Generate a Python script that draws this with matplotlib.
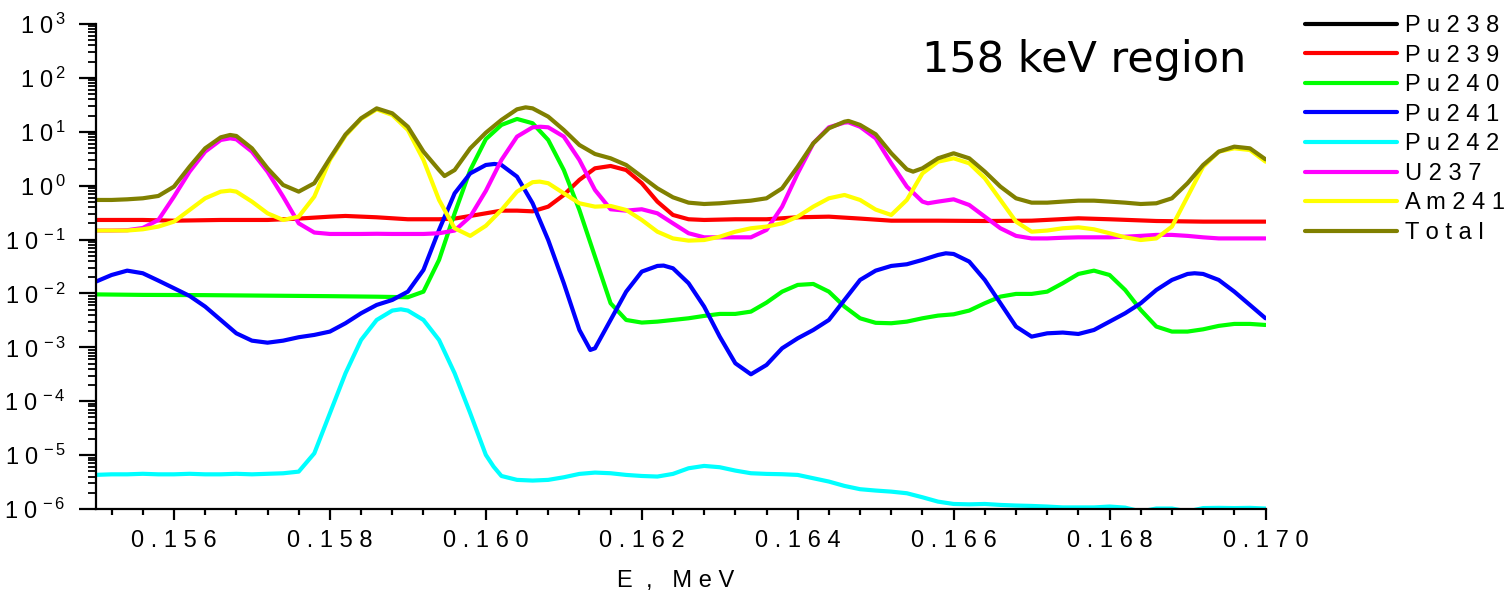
import matplotlib
matplotlib.use("Agg")
import matplotlib.pyplot as plt
from matplotlib.ticker import FixedLocator, MultipleLocator, LogLocator, FuncFormatter, NullFormatter
import math

# ---------------- data ----------------
E_pu238 = []
pu238 = []

E_pu239 = [0.1550, 0.1556, 0.1560, 0.1566, 0.1572, 0.1576, 0.1580, 0.1582, 0.1586, 0.1590,
           0.1594, 0.1596, 0.1598, 0.1600, 0.1602, 0.1604, 0.1606, 0.1608, 0.1610, 0.1612,
           0.1614, 0.1616, 0.1618, 0.1620, 0.1622, 0.1624, 0.1626, 0.1628, 0.1632, 0.1636,
           0.1640, 0.1644, 0.1648, 0.1652, 0.1658, 0.1664, 0.1670, 0.1676, 0.1680, 0.1686,
           0.1692, 0.1700]
pu239 = [0.231, 0.231, 0.224, 0.231, 0.231, 0.245, 0.266, 0.274, 0.259, 0.238,
         0.238, 0.245, 0.274, 0.307, 0.344, 0.344, 0.334, 0.408, 0.672, 1.28,
         2.10, 2.32, 1.95, 1.11, 0.506, 0.286, 0.238, 0.231, 0.238, 0.238,
         0.259, 0.266, 0.245, 0.224, 0.224, 0.221, 0.224, 0.248, 0.238, 0.221,
         0.215, 0.215]

E_pu240 = [0.1550, 0.1556, 0.1564, 0.1572, 0.1580, 0.1586, 0.1590, 0.1592, 0.1594, 0.1596,
           0.1598, 0.1600, 0.1602, 0.1604, 0.1606, 0.1608, 0.1610, 0.1612, 0.1614, 0.1616,
           0.1618, 0.1620, 0.1622, 0.1624, 0.1626, 0.1628, 0.1630, 0.1632, 0.1634, 0.1636,
           0.1638, 0.1640, 0.1642, 0.1644, 0.1646, 0.1648, 0.1650, 0.1652, 0.1654, 0.1656,
           0.1658, 0.1660, 0.1662, 0.1664, 0.1666, 0.1668, 0.1670, 0.1672, 0.1674, 0.1676,
           0.1678, 0.1680, 0.1682, 0.1684, 0.1686, 0.1688, 0.1690, 0.1692, 0.1694, 0.1696,
           0.1698, 0.1700]
pu240 = [0.0096, 0.0094, 0.0093, 0.0091, 0.0089, 0.0087, 0.0085, 0.0108, 0.0419, 0.307,
         1.95, 7.3, 13.4, 17.3, 14.4, 7.05, 1.95, 0.354, 0.0482, 0.00658,
         0.00322, 0.00288, 0.0030, 0.00322, 0.00346, 0.00383, 0.00417, 0.00417, 0.0046, 0.00676,
         0.0108, 0.0144, 0.0150, 0.0108, 0.0057, 0.00346, 0.00285, 0.0028, 0.0030, 0.00346,
         0.00388, 0.0041, 0.00481, 0.00658, 0.00873, 0.0098, 0.0098, 0.0108, 0.0155, 0.0230,
         0.0265, 0.0220, 0.0116, 0.00494, 0.00243, 0.00196, 0.00196, 0.00216, 0.0025, 0.00272,
         0.00272, 0.0026]

E_pu241 = [0.1550, 0.1552, 0.1554, 0.1556, 0.1558, 0.1560, 0.1562, 0.1564, 0.1566, 0.1568,
           0.1570, 0.1572, 0.1574, 0.1576, 0.1578, 0.1580, 0.1582, 0.1584, 0.1586, 0.1588,
           0.1590, 0.1592, 0.1594, 0.1596, 0.1598, 0.1600, 0.16011, 0.1602, 0.1604, 0.1606,
           0.1608, 0.1610, 0.1612, 0.16134, 0.1614, 0.1616, 0.1618, 0.1620, 0.1622, 0.16228,
           0.1624, 0.1626, 0.1628, 0.1630, 0.1632, 0.1634, 0.1636, 0.1638, 0.1640, 0.1642,
           0.1644, 0.1646, 0.1648, 0.1650, 0.1652, 0.1654, 0.1656, 0.1658, 0.16590, 0.1660,
           0.1662, 0.1664, 0.1666, 0.1668, 0.1670, 0.1672, 0.1674, 0.1676, 0.1678, 0.1680,
           0.1682, 0.1684, 0.1686, 0.1688, 0.1690, 0.16909, 0.1692, 0.1694, 0.1696, 0.1698,
           0.1700]
pu241 = [0.0166, 0.0220, 0.0265, 0.0237, 0.0173, 0.0125, 0.0090, 0.0057, 0.00322, 0.00182,
         0.00133, 0.00122, 0.00133, 0.00154, 0.0017, 0.00196, 0.0028, 0.00429, 0.00612, 0.00757,
         0.0108, 0.0273, 0.151, 0.722, 1.69, 2.42, 2.53, 2.42, 1.47, 0.471,
         0.098, 0.0155, 0.0021, 0.000895, 0.00096, 0.00322, 0.0108, 0.0254, 0.0324, 0.0329,
         0.0293, 0.0155, 0.0057, 0.00158, 0.000506, 0.000316, 0.000471, 0.00096, 0.00147, 0.0021,
         0.00322, 0.00757, 0.0178, 0.0265, 0.0324, 0.0348, 0.0419, 0.0518, 0.0556, 0.0540,
         0.0390, 0.0178, 0.00658, 0.00243, 0.00158, 0.00182, 0.00188, 0.00177, 0.0021, 0.0030,
         0.00429, 0.00658, 0.0116, 0.0178, 0.0230, 0.0237, 0.0230, 0.0178, 0.0108, 0.00612,
         0.00346]

E_pu242 = [0.1550, 0.1552, 0.1554, 0.1556, 0.1558, 0.1560, 0.1562, 0.1564, 0.1566, 0.1568,
           0.1570, 0.1572, 0.1574, 0.1576, 0.1578, 0.1580, 0.1582, 0.1584, 0.1586, 0.1588,
           0.15891, 0.1590, 0.1592, 0.1594, 0.1596, 0.1598, 0.1600, 0.1601, 0.1602, 0.1604,
           0.1606, 0.1608, 0.1610, 0.1612, 0.1614, 0.1616, 0.1618, 0.1620, 0.1622, 0.1624,
           0.1626, 0.1628, 0.1630, 0.1632, 0.1634, 0.1636, 0.1638, 0.1640, 0.1642, 0.1644,
           0.1646, 0.1648, 0.1650, 0.1652, 0.1654, 0.1656, 0.1658, 0.1660, 0.1662, 0.1664,
           0.1666, 0.1668, 0.1670, 0.1672, 0.1674, 0.1676, 0.1678, 0.1680, 0.1682, 0.1684,
           0.1686, 0.1688, 0.1690, 0.1692, 0.1694, 0.1696, 0.1698, 0.1700]
pu242 = [4.3e-6, 4.4e-6, 4.4e-6, 4.5e-6, 4.4e-6, 4.4e-6, 4.5e-6, 4.4e-6, 4.4e-6, 4.5e-6,
         4.4e-6, 4.5e-6, 4.6e-6, 4.94e-6, 1.08e-5, 5.98e-5, 3.30e-4, 1.37e-3, 3.22e-3, 4.81e-3,
         5.08e-3, 4.81e-3, 3.22e-3, 1.37e-3, 3.30e-4, 5.98e-5, 1.01e-5, 6.1e-6, 4.1e-6, 3.47e-6,
         3.37e-6, 3.47e-6, 3.88e-6, 4.48e-6, 4.74e-6, 4.61e-6, 4.29e-6, 4.1e-6, 4.0e-6, 4.48e-6,
         5.7e-6, 6.3e-6, 5.96e-6, 5.16e-6, 4.61e-6, 4.48e-6, 4.42e-6, 4.29e-6, 3.72e-6, 3.23e-6,
         2.68e-6, 2.33e-6, 2.2e-6, 2.1e-6, 1.96e-6, 1.65e-6, 1.37e-6, 1.24e-6, 1.22e-6, 1.24e-6,
         1.19e-6, 1.16e-6, 1.14e-6, 1.11e-6, 1.07e-6, 1.07e-6, 1.07e-6, 1.11e-6, 1.06e-6, 0.9e-6,
         1.02e-6, 1.02e-6, 0.9e-6, 1.04e-6, 1.05e-6, 1.04e-6, 1.05e-6, 1.02e-6]

E_u237 = [0.1550, 0.1552, 0.1554, 0.1556, 0.1558, 0.1560, 0.1562, 0.1564, 0.1566, 0.15672,
          0.1568, 0.1570, 0.1572, 0.1574, 0.1576, 0.1578, 0.1580, 0.1582, 0.1584, 0.1586,
          0.1588, 0.1590, 0.1592, 0.1594, 0.1596, 0.1598, 0.1600, 0.1602, 0.1604, 0.1606,
          0.1607, 0.1608, 0.1610, 0.1612, 0.1614, 0.1616, 0.1618, 0.1620, 0.1622, 0.1624,
          0.1626, 0.1628, 0.1630, 0.1632, 0.1634, 0.1636, 0.1638, 0.1640, 0.1642, 0.1644,
          0.1646, 0.16465, 0.1648, 0.1650, 0.1652, 0.1654, 0.1656, 0.16567, 0.1658, 0.1660,
          0.1662, 0.1664, 0.1666, 0.1668, 0.1670, 0.1672, 0.1674, 0.1676, 0.1678, 0.1680,
          0.1682, 0.1684, 0.1686, 0.1688, 0.1690, 0.1692, 0.1694, 0.1696, 0.1698, 0.1700]
u237 = [0.147, 0.147, 0.149, 0.164, 0.231, 0.626, 1.82, 4.28, 7.05, 7.56,
        7.25, 4.28, 1.82, 0.626, 0.200, 0.135, 0.127, 0.127, 0.127, 0.128,
        0.127, 0.127, 0.127, 0.131, 0.147, 0.266, 0.80, 3.0, 8.13, 12.1,
        12.4, 12.1, 8.13, 3.0, 0.832, 0.365, 0.344, 0.365, 0.307, 0.200,
        0.131, 0.110, 0.110, 0.110, 0.110, 0.151, 0.408, 1.69, 6.11, 12.1,
        14.8, 15.0, 12.4, 7.56, 2.60, 0.96, 0.506, 0.471, 0.506, 0.558,
        0.438, 0.266, 0.162, 0.117, 0.105, 0.105, 0.108, 0.110, 0.110, 0.110,
        0.113, 0.117, 0.122, 0.122, 0.117, 0.110, 0.105, 0.105, 0.105, 0.105]

E_am241 = [0.1550, 0.1552, 0.1554, 0.1556, 0.1558, 0.1560, 0.1562, 0.1564, 0.1566, 0.15672,
           0.1568, 0.1570, 0.1572, 0.1574, 0.1576, 0.1578, 0.1580, 0.1582, 0.1584, 0.1586,
           0.1588, 0.1590, 0.1592, 0.1594, 0.1596, 0.1598, 0.1600, 0.1602, 0.1604, 0.1606,
           0.16069, 0.1608, 0.1610, 0.1612, 0.1614, 0.1616, 0.1618, 0.1620, 0.1622, 0.1624,
           0.1626, 0.1628, 0.1630, 0.1632, 0.1634, 0.1636, 0.1638, 0.1640, 0.1642, 0.1644,
           0.1646, 0.1648, 0.1650, 0.1652, 0.1654, 0.1656, 0.1658, 0.1660, 0.1662, 0.1664,
           0.1666, 0.1668, 0.1670, 0.1672, 0.1674, 0.1676, 0.1678, 0.1680, 0.1682, 0.1684,
           0.1686, 0.1688, 0.1690, 0.1692, 0.1694, 0.1696, 0.1698, 0.1700]
am241 = [0.147, 0.147, 0.147, 0.155, 0.174, 0.215, 0.354, 0.583, 0.775, 0.809,
         0.775, 0.506, 0.307, 0.231, 0.266, 0.626, 3.0, 8.5, 17.3, 26.1,
         20.5, 10.8, 3.0, 0.543, 0.162, 0.117, 0.18, 0.354, 0.775, 1.16,
         1.19, 1.11, 0.722, 0.471, 0.408, 0.420, 0.354, 0.231, 0.140, 0.105,
         0.0955, 0.098, 0.113, 0.140, 0.162, 0.174, 0.200, 0.266, 0.408, 0.583,
         0.672, 0.543, 0.36, 0.286, 0.543, 1.69, 2.79, 3.22, 2.60, 1.37,
         0.543, 0.215, 0.140, 0.147, 0.162, 0.169, 0.155, 0.131, 0.110, 0.098,
         0.105, 0.174, 0.626, 2.25, 4.28, 4.93, 4.59, 2.79]

E_total = [0.1550, 0.1552, 0.1554, 0.1556, 0.1558, 0.1560, 0.1562, 0.1564, 0.1566, 0.15672,
           0.1568, 0.1570, 0.1572, 0.1574, 0.1576, 0.1578, 0.1580, 0.1582, 0.1584, 0.1586,
           0.1588, 0.1590, 0.1592, 0.1594, 0.15947, 0.1596, 0.1598, 0.1600, 0.1602, 0.1604,
           0.16051, 0.1606, 0.1608, 0.1610, 0.1612, 0.1614, 0.1616, 0.1618, 0.1620, 0.1622,
           0.1624, 0.1626, 0.1628, 0.1630, 0.1632, 0.1634, 0.1636, 0.1638, 0.1640, 0.1642,
           0.1644, 0.1646, 0.16465, 0.1648, 0.1650, 0.1652, 0.1654, 0.16548, 0.1656, 0.1658,
           0.1660, 0.1662, 0.1664, 0.1666, 0.1668, 0.1670, 0.1672, 0.1674, 0.1676, 0.1678,
           0.1680, 0.1682, 0.1684, 0.1686, 0.1688, 0.1690, 0.1692, 0.1694, 0.1696, 0.1698,
           0.1700]
total = [0.543, 0.543, 0.558, 0.583, 0.644, 0.96, 2.25, 4.93, 7.89, 8.73,
         8.36, 4.93, 2.10, 1.03, 0.775, 1.11, 3.22, 8.9, 17.8, 27.2,
         22.0, 12.4, 4.28, 1.95, 1.51, 1.95, 4.93, 9.6, 16.6, 26.1,
         28.4, 27.2, 19.1, 10.8, 5.69, 3.87, 3.22, 2.42, 1.47, 0.893,
         0.608, 0.484, 0.457, 0.471, 0.499, 0.527, 0.583, 0.893, 2.25, 6.11,
         11.6, 15.4, 15.9, 13.4, 9.0, 3.99, 2.01, 1.82, 2.10, 3.22,
         3.99, 3.22, 1.82, 0.96, 0.583, 0.484, 0.484, 0.506, 0.527, 0.527,
         0.506, 0.484, 0.457, 0.471, 0.583, 1.11, 2.42, 4.28, 5.30, 4.93,
         3.08]

series_names = ["Pu238", "Pu239", "Pu240", "Pu241", "Pu242", "U237", "Am241", "Total"]
series_x = [E_pu238, E_pu239, E_pu240, E_pu241, E_pu242, E_u237, E_am241, E_total]
series_y = [pu238, pu239, pu240, pu241, pu242, u237, am241, total]
series_colors = ["#000000", "#FF0000", "#00FF00", "#0000FF", "#00FFFF", "#FF00FF", "#FFFF00", "#808000"]

x_major = [0.156, 0.158, 0.160, 0.162, 0.164, 0.166, 0.168, 0.170]

# ---------------- figure ----------------
plt.rcParams['font.family'] = ['Liberation Sans', 'DejaVu Sans']
plt.rcParams['mathtext.fontset'] = 'custom'
plt.rcParams['mathtext.rm'] = 'Liberation Sans'
plt.rcParams['mathtext.it'] = 'Liberation Sans:italic'
plt.rcParams['mathtext.bf'] = 'Liberation Sans:bold'

W, H = 1510, 594
FS = 17
fig = plt.figure(figsize=(W / 100, H / 100), dpi=100)
x0, x1, ytop, ybot = 96, 1265.5, 24, 509
ax = fig.add_axes([x0 / W, 1 - ybot / H, (x1 - x0) / W, (ybot - ytop) / H])


def spaced(s):
    return " ".join(s)


for xs, ys, name, col in zip(series_x, series_y, series_names, series_colors):
    ax.plot(xs, ys, color=col, lw=3.0, solid_joinstyle='round', solid_capstyle='round',
            label=spaced(name))

ax.set_yscale('log')
ax.set_xlim(0.155, 0.170)
ax.set_ylim(1e-6, 1e3)

for s in ['top', 'right']:
    ax.spines[s].set_visible(False)
for s in ['left', 'bottom']:
    ax.spines[s].set_linewidth(1.6)

ax.xaxis.set_major_locator(FixedLocator(x_major))
ax.xaxis.set_minor_locator(MultipleLocator(0.0004))
ax.xaxis.set_major_formatter(FuncFormatter(lambda v, p: spaced(f"{v:.3f}")))

ax.yaxis.set_major_locator(LogLocator(base=10, numticks=20))
ax.yaxis.set_minor_locator(LogLocator(base=10, subs=[2, 3, 4, 5, 6, 7, 8, 9], numticks=20))
ax.yaxis.set_minor_formatter(NullFormatter())


def yfmt(v, p):
    e = int(round(math.log10(v)))
    return r"$\mathregular{1\ 0^{\,%d}}$" % e


ax.yaxis.set_major_formatter(FuncFormatter(yfmt))

ax.tick_params(axis='y', which='major', direction='out', length=12, width=1.6, pad=10, labelsize=FS)
ax.tick_params(axis='y', which='minor', direction='out', length=5.5, width=1.3)
ax.tick_params(axis='x', which='major', direction='out', length=8, width=1.6, pad=7, labelsize=FS)
ax.tick_params(axis='x', which='minor', direction='out', length=4, width=1.6)

ax.set_xlabel("E  ,   M e V", fontsize=FS)
ax.xaxis.set_label_coords((676 - x0) / (x1 - x0), (ybot - 570) / (ybot - ytop))
ax.xaxis.label.set_va('top')

leg = ax.legend(loc='upper left', bbox_to_anchor=(1305 / W, 1 - 15 / H), bbox_transform=fig.transFigure,
                frameon=False, fontsize=FS, handlelength=3.9, handletextpad=0.34,
                labelspacing=0.32, borderpad=0, borderaxespad=0)

fig.text(922 / W, 1 - 72 / H, "158 keV region", fontsize=31, family='DejaVu Sans',
         ha='left', va='baseline')

fig.savefig("out.png", dpi=100)
